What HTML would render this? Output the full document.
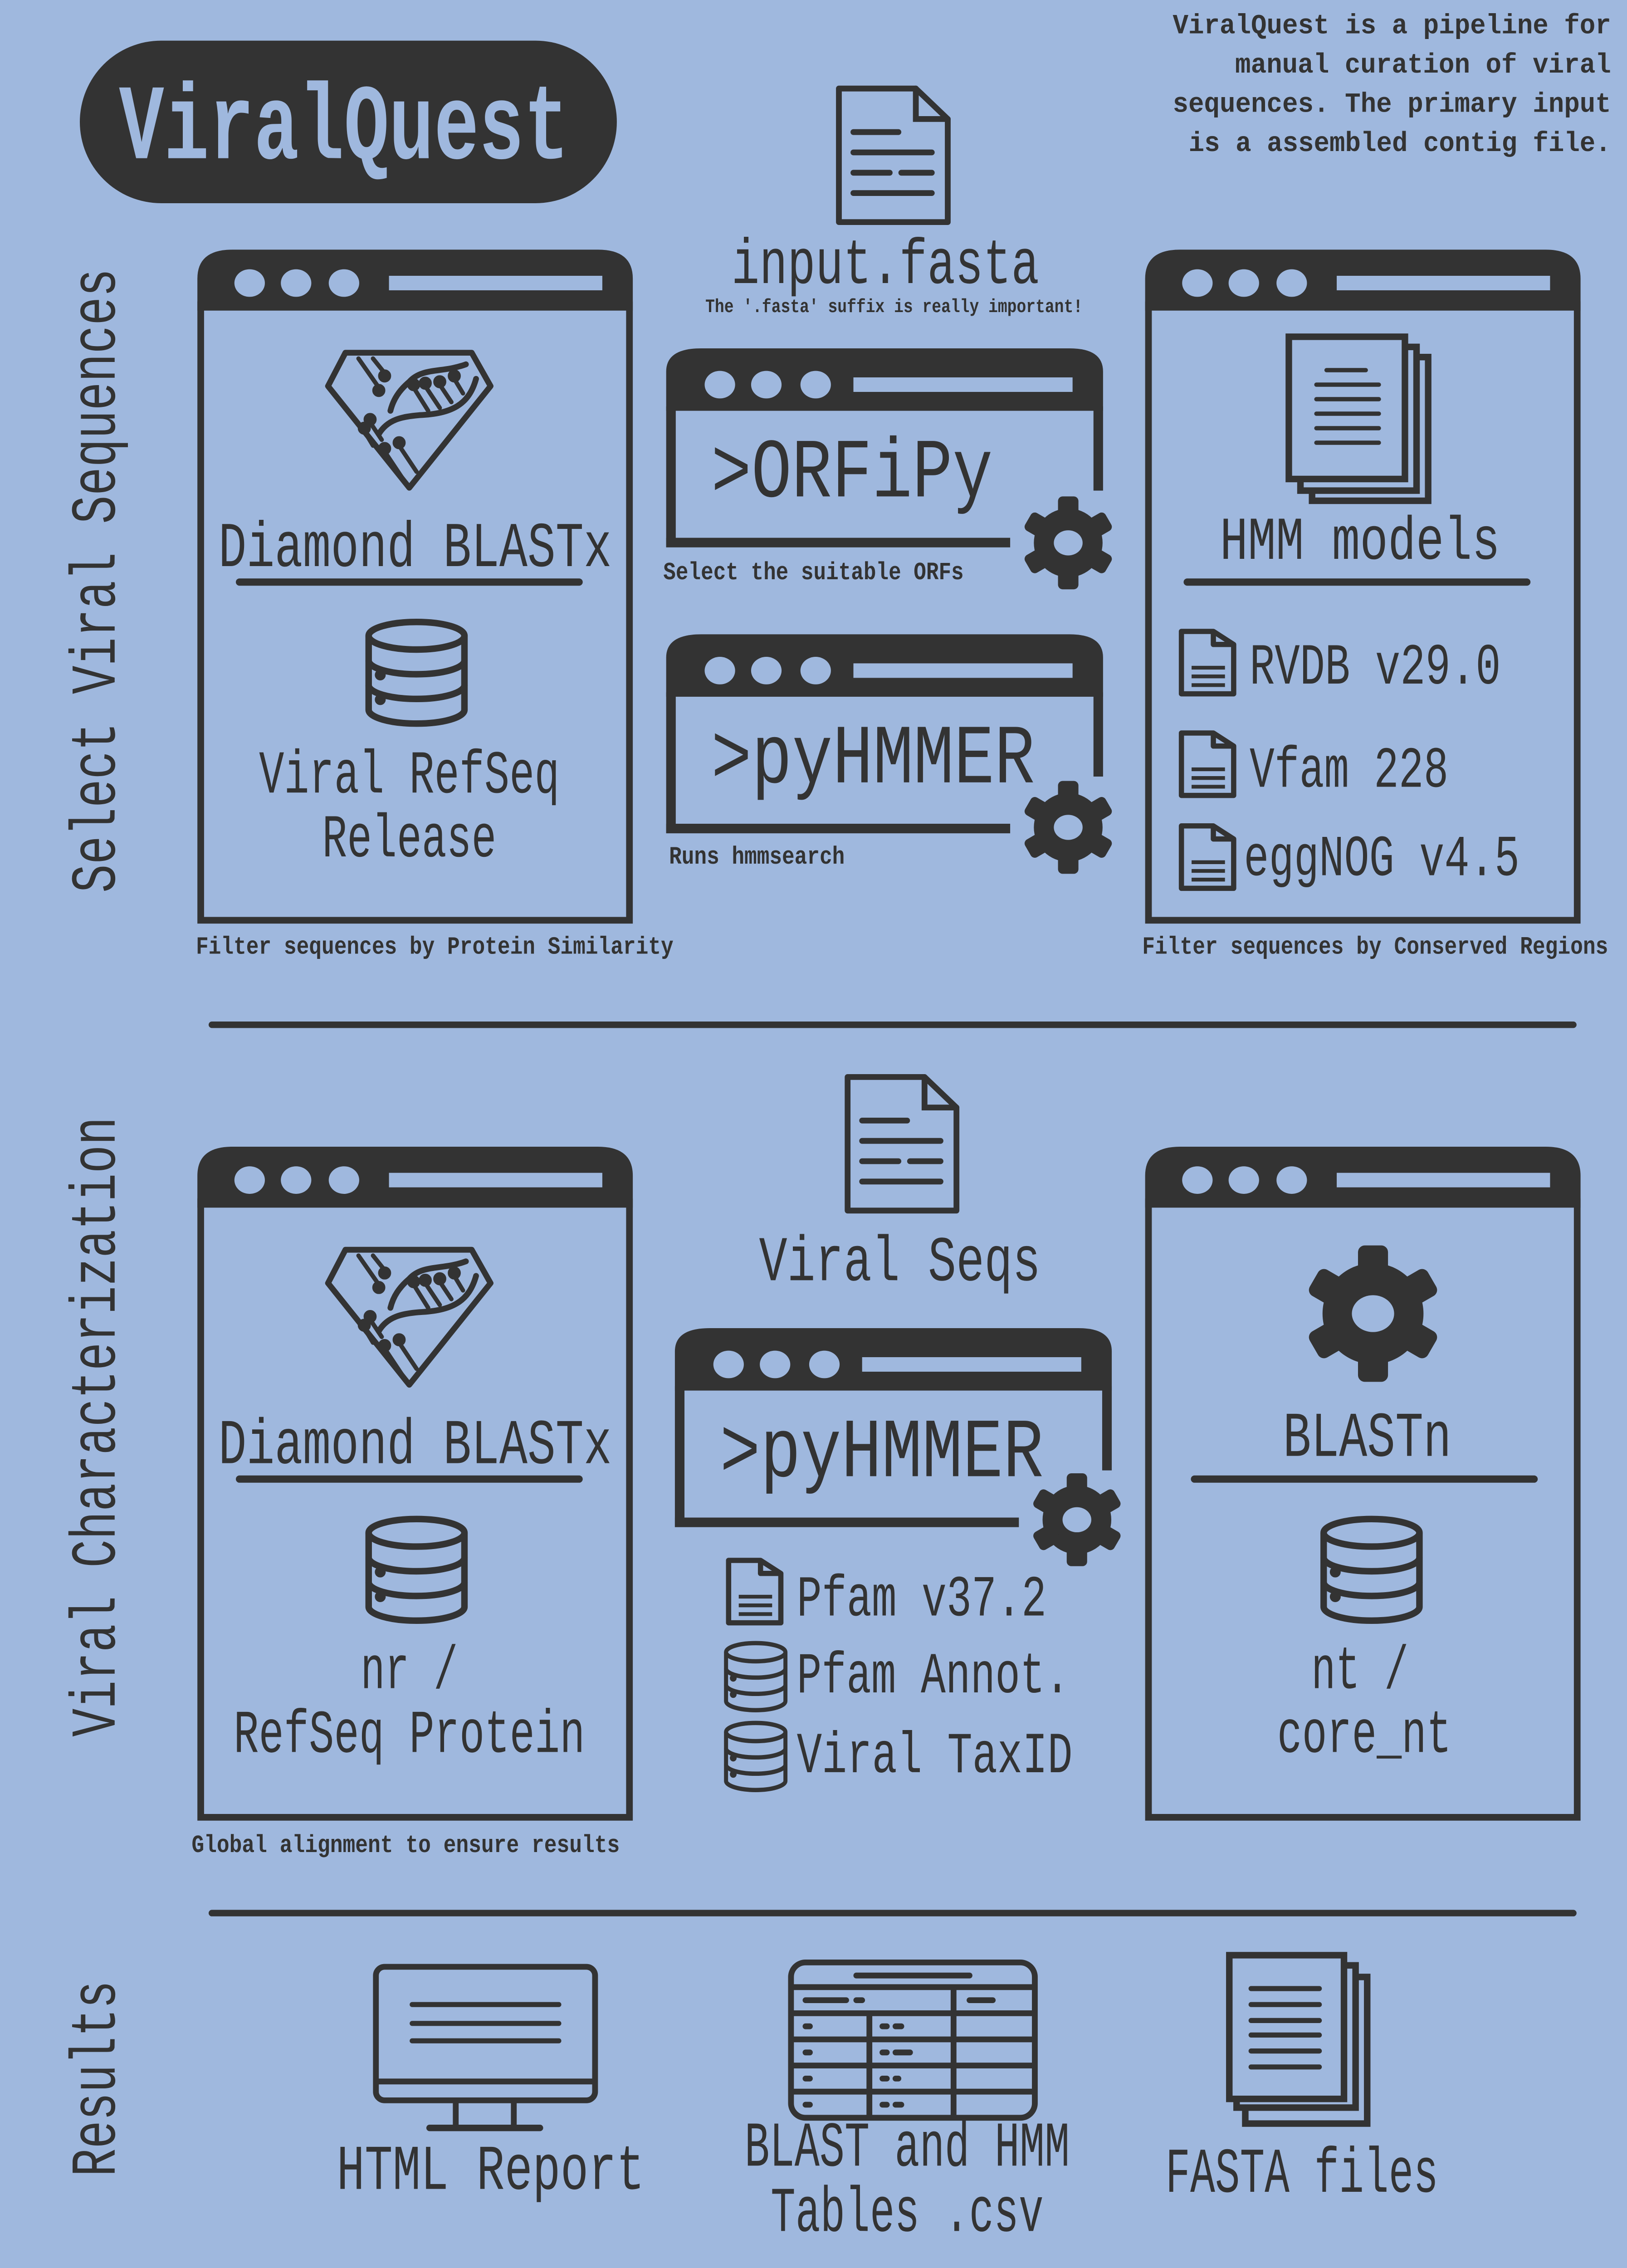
<!DOCTYPE html>
<html><head><meta charset="utf-8">
<style>
html,body{margin:0;padding:0;background:#9fb8de;width:3587px;height:5016px;overflow:hidden;}
svg{display:block;}
text{font-family:"Liberation Mono","DejaVu Sans Mono",monospace;fill:#333;}
.b{font-weight:bold;}
</style></head>
<body>
<svg xmlns="http://www.w3.org/2000/svg" xmlns:xlink="http://www.w3.org/1999/xlink" width="3587" height="5016" viewBox="0 0 1121 1567.5" preserveAspectRatio="none">
<defs>
  <g id="bigwin">
    <path d="M0,42 V20 Q0,0 24,0 H276 Q300,0 300,20 V42 Z" fill="#333"/>
    <rect x="2.3" y="38" width="295.4" height="424" fill="none" stroke="#333" stroke-width="4.6"/>
    <ellipse cx="36" cy="23" rx="10.5" ry="9.5" fill="#9fb8de"/>
    <ellipse cx="68" cy="23" rx="10.5" ry="9.5" fill="#9fb8de"/>
    <ellipse cx="101" cy="23" rx="10.5" ry="9.5" fill="#9fb8de"/>
    <rect x="132" y="18" width="147" height="10" fill="#9fb8de"/>
  </g>
  <g id="smallwin">
    <path d="M0,43 V16 Q0,0 24,0 H278 Q301,0 301,16 V43 Z" fill="#333"/>
    <rect x="0" y="40" width="6.6" height="97" fill="#333"/>
    <rect x="294.4" y="40" width="6.6" height="58" fill="#333"/>
    <rect x="0" y="130.5" width="237" height="6.6" fill="#333"/>
    <ellipse cx="37" cy="25" rx="10.5" ry="9.5" fill="#9fb8de"/>
    <ellipse cx="69" cy="25" rx="10.5" ry="9.5" fill="#9fb8de"/>
    <ellipse cx="103" cy="25" rx="10.5" ry="9.5" fill="#9fb8de"/>
    <rect x="129" y="20" width="151" height="10" fill="#9fb8de"/>
  </g>
  <g id="gear">
    <circle r="0.74" fill="#333"/>
    <rect x="-0.22" y="-1" width="0.44" height="0.5" rx="0.1" fill="#333"/>
    <rect x="-0.22" y="-1" width="0.44" height="0.5" rx="0.1" fill="#333" transform="rotate(60)"/>
    <rect x="-0.22" y="-1" width="0.44" height="0.5" rx="0.1" fill="#333" transform="rotate(120)"/>
    <rect x="-0.22" y="-1" width="0.44" height="0.5" rx="0.1" fill="#333" transform="rotate(180)"/>
    <rect x="-0.22" y="-1" width="0.44" height="0.5" rx="0.1" fill="#333" transform="rotate(240)"/>
    <rect x="-0.22" y="-1" width="0.44" height="0.5" rx="0.1" fill="#333" transform="rotate(300)"/>
    <ellipse rx="0.31" ry="0.27" fill="#9fb8de"/>
  </g>
  <g id="db" fill="none" stroke="#333" stroke-width="4.5">
    <ellipse cx="35" cy="11" rx="33" ry="9.5"/>
    <path d="M2,11 V62 A33,9.5 0 0 0 68,62 V11"/>
    <path d="M2,28 A33,9.5 0 0 0 68,28"/>
    <path d="M2,45 A33,9.5 0 0 0 68,45"/>
    <circle cx="10" cy="38" r="1.5" fill="#333"/>
    <circle cx="10" cy="55" r="1.5" fill="#333"/>
  </g>
  <g id="doc" fill="none" stroke="#333" stroke-width="4" stroke-linecap="round">
    <path d="M3,3 H56 L78,24 V95 H3 Z" stroke-linejoin="round"/>
    <path d="M56,3 V24 H78"/>
    <path d="M13,33 H44 M13,47 H67 M13,61 H38 M46,61 H67 M13,75 H67"/>
  </g>
  <g id="file" fill="none" stroke="#333" stroke-width="3.6" stroke-linejoin="round">
    <path d="M2,2 H24 L38,11 V45 H2 Z"/>
    <path d="M24,2 V11 H38"/>
    <path d="M9,27 H32 M9,33 H32 M9,39 H32" stroke-width="2.6"/>
  </g>
  <g id="dia" fill="none" stroke="#333" stroke-width="4" stroke-linejoin="round" stroke-linecap="round">
    <path d="M13,2 H100 L113,25 L57,95 L1,25 Z"/>
    <path d="M96,10 C80,16 66,12 57,22 C50,28 46,34 44,42"/>
    <path d="M103,20 C98,38 86,44 64,45 C52,46 42,48 36,58"/>
    <path d="M22,6 L36,26 M32,6 L40,16 M40,70 L52,88 M50,66 L62,84 M60,26 L70,42 M68,25 L78,40 M78,24 L86,36 M88,20 L94,30 M30,50 L38,62 M26,56 L32,66" stroke-width="3"/>
    <circle cx="36" cy="28" r="2.5" fill="#333"/><circle cx="40" cy="18" r="2.5" fill="#333"/>
    <circle cx="40" cy="68" r="2.5" fill="#333"/><circle cx="50" cy="64" r="2.5" fill="#333"/>
    <circle cx="60" cy="24" r="2.5" fill="#333"/><circle cx="68" cy="23" r="2.5" fill="#333"/>
    <circle cx="78" cy="22" r="2.5" fill="#333"/><circle cx="88" cy="18" r="2.5" fill="#333"/>
    <circle cx="30" cy="48" r="2.5" fill="#333"/><circle cx="26" cy="54" r="2.5" fill="#333"/>
  </g>
</defs>

<rect x="0" y="0" width="1121" height="1567.5" fill="#9fb8de"/>

<rect x="55" y="28" width="370" height="112" rx="56" fill="#333"/>
<text x="82" y="109" font-size="74" class="b" textLength="310" lengthAdjust="spacingAndGlyphs" style="fill:#9fb8de">ViralQuest</text>

<g font-size="19" text-anchor="end" class="b">
<text x="1110" y="23" textLength="302" lengthAdjust="spacingAndGlyphs">ViralQuest is a pipeline for</text>
<text x="1110" y="50" textLength="259" lengthAdjust="spacingAndGlyphs">manual curation of viral</text>
<text x="1110" y="77" textLength="302" lengthAdjust="spacingAndGlyphs">sequences. The primary input</text>
<text x="1110" y="104" textLength="291" lengthAdjust="spacingAndGlyphs">is a assembled contig file.</text>
</g>

<text transform="translate(79,400) rotate(-90)" font-size="44" text-anchor="middle" textLength="430" lengthAdjust="spacingAndGlyphs">Select Viral Sequences</text>
<text transform="translate(79,983) rotate(-90)" font-size="44" text-anchor="middle" textLength="427" lengthAdjust="spacingAndGlyphs">Viral Characterization</text>
<text transform="translate(79,1432) rotate(-90)" font-size="44" text-anchor="middle" textLength="135" lengthAdjust="spacingAndGlyphs">Results</text>

<use xlink:href="#bigwin" x="136" y="172"/>
<use xlink:href="#dia" x="225" y="241"/>
<text x="286" y="390" font-size="44" text-anchor="middle" textLength="271" lengthAdjust="spacingAndGlyphs">Diamond BLASTx</text>
<line x1="165" y1="401" x2="399" y2="401" stroke="#333" stroke-width="5" stroke-linecap="round"/>
<use xlink:href="#db" x="252" y="427"/>
<text x="282" y="546" font-size="42" text-anchor="middle" textLength="207" lengthAdjust="spacingAndGlyphs">Viral RefSeq</text>
<text x="282" y="590" font-size="42" text-anchor="middle" textLength="120" lengthAdjust="spacingAndGlyphs">Release</text>
<text x="135" y="657" font-size="17" class="b" textLength="329" lengthAdjust="spacingAndGlyphs">Filter sequences by Protein Similarity</text>

<use xlink:href="#doc" x="575" y="58"/>
<text x="610" y="195" font-size="44" text-anchor="middle" textLength="212" lengthAdjust="spacingAndGlyphs">input.fasta</text>
<text x="616" y="215" font-size="13" class="b" text-anchor="middle" textLength="260" lengthAdjust="spacingAndGlyphs">The '.fasta' suffix is really important!</text>

<use xlink:href="#smallwin" x="459" y="240"/>
<text x="490" y="342" font-size="58" textLength="194" lengthAdjust="spacingAndGlyphs">&gt;ORFiPy</text>
<use xlink:href="#gear" transform="translate(736,374) scale(32)"/>
<text x="457" y="399" font-size="17" class="b" textLength="207" lengthAdjust="spacingAndGlyphs">Select the suitable ORFs</text>

<use xlink:href="#smallwin" x="459" y="437"/>
<text x="490" y="539" font-size="58" textLength="223" lengthAdjust="spacingAndGlyphs">&gt;pyHMMER</text>
<use xlink:href="#gear" transform="translate(736,570) scale(32)"/>
<text x="461" y="595" font-size="17" class="b" textLength="121" lengthAdjust="spacingAndGlyphs">Runs hmmsearch</text>

<use xlink:href="#bigwin" x="789" y="172"/>
<g fill="none" stroke="#333" stroke-width="4.5">
  <rect x="904" y="246" width="80" height="99"/>
  <rect x="896" y="239" width="80" height="99" fill="#9fb8de"/>
  <rect x="888" y="232" width="80" height="98" fill="#9fb8de"/>
  <path d="M914,255 H941 M907,265 H950 M907,275 H950 M907,285 H950 M907,295 H950 M907,305 H950" stroke-width="3" stroke-linecap="round"/>
</g>
<text x="937" y="385" font-size="42" text-anchor="middle" textLength="193" lengthAdjust="spacingAndGlyphs">HMM models</text>
<line x1="818" y1="401" x2="1052" y2="401" stroke="#333" stroke-width="5" stroke-linecap="round"/>
<use xlink:href="#file" x="812" y="433"/>
<text x="861" y="471" font-size="40" textLength="173" lengthAdjust="spacingAndGlyphs">RVDB v29.0</text>
<use xlink:href="#file" x="812" y="503"/>
<text x="861" y="542" font-size="40" textLength="137" lengthAdjust="spacingAndGlyphs">Vfam 228</text>
<use xlink:href="#file" x="812" y="567"/>
<text x="857" y="603" font-size="40" textLength="190" lengthAdjust="spacingAndGlyphs">eggNOG v4.5</text>
<text x="787" y="657" font-size="17" class="b" textLength="321" lengthAdjust="spacingAndGlyphs">Filter sequences by Conserved Regions</text>

<line x1="146" y1="706" x2="1084" y2="706" stroke="#333" stroke-width="4.5" stroke-linecap="round"/>

<use xlink:href="#bigwin" x="136" y="790"/>
<use xlink:href="#dia" x="225" y="859"/>
<text x="286" y="1008" font-size="44" text-anchor="middle" textLength="271" lengthAdjust="spacingAndGlyphs">Diamond BLASTx</text>
<line x1="165" y1="1019" x2="399" y2="1019" stroke="#333" stroke-width="5" stroke-linecap="round"/>
<use xlink:href="#db" x="252" y="1045"/>
<text x="282" y="1163" font-size="42" text-anchor="middle" textLength="67" lengthAdjust="spacingAndGlyphs">nr /</text>
<text x="282" y="1207" font-size="42" text-anchor="middle" textLength="242" lengthAdjust="spacingAndGlyphs">RefSeq Protein</text>
<text x="132" y="1276" font-size="17" class="b" textLength="295" lengthAdjust="spacingAndGlyphs">Global alignment to ensure results</text>

<use xlink:href="#doc" x="581" y="739"/>
<text x="620" y="882" font-size="44" text-anchor="middle" textLength="194" lengthAdjust="spacingAndGlyphs">Viral Seqs</text>

<use xlink:href="#smallwin" x="465" y="915"/>
<text x="496" y="1017" font-size="58" textLength="223" lengthAdjust="spacingAndGlyphs">&gt;pyHMMER</text>
<use xlink:href="#gear" transform="translate(742,1047) scale(32)"/>
<use xlink:href="#file" x="500" y="1073"/>
<text x="549" y="1113" font-size="40" textLength="172" lengthAdjust="spacingAndGlyphs">Pfam v37.2</text>
<use xlink:href="#db" transform="translate(499,1131) scale(0.62,0.66)"/>
<text x="549" y="1166" font-size="40" textLength="188" lengthAdjust="spacingAndGlyphs">Pfam Annot.</text>
<use xlink:href="#db" transform="translate(499,1186) scale(0.62,0.66)"/>
<text x="549" y="1221" font-size="40" textLength="190" lengthAdjust="spacingAndGlyphs">Viral TaxID</text>

<use xlink:href="#bigwin" x="789" y="790"/>
<use xlink:href="#gear" transform="translate(946,905) scale(47)"/>
<text x="942" y="1003" font-size="44" text-anchor="middle" textLength="116" lengthAdjust="spacingAndGlyphs">BLASTn</text>
<line x1="823" y1="1019" x2="1057" y2="1019" stroke="#333" stroke-width="5" stroke-linecap="round"/>
<use xlink:href="#db" x="910" y="1045"/>
<text x="937" y="1163" font-size="42" text-anchor="middle" textLength="67" lengthAdjust="spacingAndGlyphs">nt /</text>
<text x="940" y="1207" font-size="42" text-anchor="middle" textLength="120" lengthAdjust="spacingAndGlyphs">core_nt</text>

<line x1="146" y1="1318" x2="1084" y2="1318" stroke="#333" stroke-width="4.5" stroke-linecap="round"/>

<g fill="none" stroke="#333" stroke-width="4">
  <rect x="259" y="1355" width="151" height="92" rx="6"/>
  <line x1="259" y1="1434" x2="410" y2="1434"/>
  <path d="M314,1447 V1465 M354,1447 V1465"/>
  <line x1="296" y1="1466" x2="372" y2="1466" stroke-width="4.5" stroke-linecap="round"/>
  <path d="M284,1381 H385 M284,1394 H385 M284,1406 H385" stroke-width="3.5" stroke-linecap="round"/>
</g>
<text x="338" y="1508" font-size="44" text-anchor="middle" textLength="212" lengthAdjust="spacingAndGlyphs">HTML Report</text>

<g fill="none" stroke="#333" stroke-width="4">
  <rect x="545" y="1352" width="168" height="107" rx="10"/>
  <line x1="590" y1="1361" x2="668" y2="1361" stroke-width="4" stroke-linecap="round"/>
  <path d="M545,1369 H713 M545,1387 H713 M545,1405 H713 M545,1423 H713 M545,1441 H713" stroke-width="4"/>
  <path d="M657,1369 V1459 M599,1387 V1459"/>
  <path d="M555,1378 H583 M590,1378 H594 M668,1378 H684 M555,1396 H558 M608,1396 H611 M617,1396 H621 M555,1414 H558 M608,1414 H611 M617,1414 H627 M555,1432 H558 M608,1432 H611 M617,1432 H619 M555,1450 H558 M608,1450 H611 M617,1450 H621" stroke-width="4" stroke-linecap="round"/>
</g>
<text x="625" y="1492" font-size="44" text-anchor="middle" textLength="224" lengthAdjust="spacingAndGlyphs">BLAST and HMM</text>
<text x="625" y="1537" font-size="44" text-anchor="middle" textLength="188" lengthAdjust="spacingAndGlyphs">Tables .csv</text>

<g fill="none" stroke="#333" stroke-width="4.5">
  <rect x="858" y="1362" width="84" height="101"/>
  <rect x="852" y="1354" width="82" height="98" fill="#9fb8de"/>
  <rect x="847" y="1347" width="79" height="99" fill="#9fb8de"/>
  <path d="M862,1370 H909 M862,1381 H909 M862,1392 H909 M862,1402 H909 M862,1413 H909 M862,1424 H909" stroke-width="3.5" stroke-linecap="round"/>
</g>
<text x="897" y="1510" font-size="44" text-anchor="middle" textLength="188" lengthAdjust="spacingAndGlyphs">FASTA files</text>
</svg>
</body></html>
